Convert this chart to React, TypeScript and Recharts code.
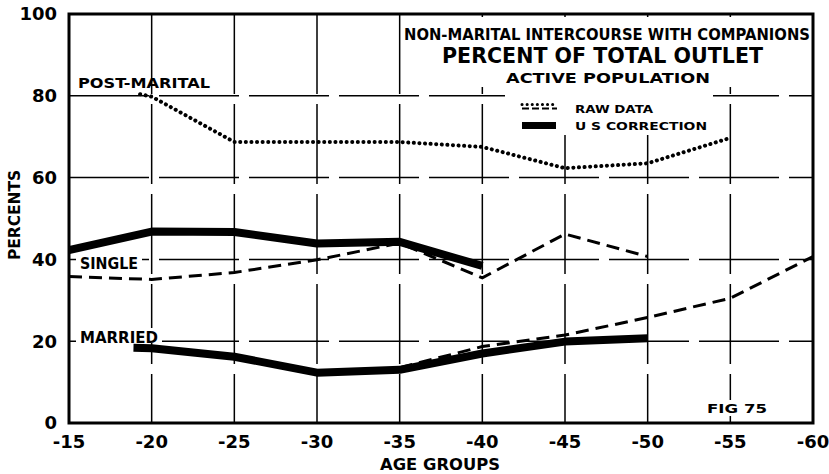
import React from "react";
import {
  LineChart,
  Line,
  XAxis,
  YAxis,
  CartesianGrid,
  ReferenceArea,
} from "recharts";

const ageTicks = [15, 20, 25, 30, 35, 40, 45, 50, 55, 60];
const percentTicks = [0, 20, 40, 60, 80, 100];

const postMaritalAges = [19.3, 20, 25, 30, 35, 40, 45, 50, 55];
const postMaritalRaw = [80.4, 79.8, 68.7, 68.7, 68.7, 67.5, 62.3, 63.5, 69.7];

const singleRawAges = [15, 20, 25, 30, 35, 40, 45, 50];
const singleRaw = [35.8, 35.1, 36.8, 39.9, 44.0, 35.5, 46.2, 40.7];

const singleCorrAges = [15, 20, 25, 30, 35, 40];
const singleCorr = [42.3, 46.8, 46.7, 43.9, 44.3, 38.4];

const marriedRawAges = [35, 40, 45, 50, 55, 60];
const marriedRaw = [13.5, 18.7, 21.5, 25.8, 30.5, 40.7];

const marriedCorrAges = [18.9, 20, 25, 30, 35, 40, 45, 50];
const marriedCorr = [18.4, 18.3, 16.2, 12.3, 13.0, 17.0, 19.9, 20.7];

const toRows = (ages: number[], vals: number[]) =>
  ages.map((a, i) => ({ age: a, v: vals[i] }));

const FONT = "'DejaVu Sans', sans-serif";

export default function App() {
  const W = 829;
  const H = 474;
  const txt = {
    fontFamily: FONT,
    fontWeight: 700 as const,
    fill: "#000",
  };
  return (
    <div style={{ position: "absolute", left: 0, top: 0, width: W, height: H, background: "#fff" }}>
      <LineChart
        width={W}
        height={H}
        margin={{ top: 14, right: 16, bottom: 0, left: 0 }}
      >
        <CartesianGrid
          stroke="#000"
          strokeWidth={1.5}
          strokeDasharray="80 10"
          horizontalValues={[20, 40, 60, 80]}
          verticalValues={[20, 25, 30, 35, 40, 45, 50, 55]}
        />
        <XAxis
          dataKey="age"
          type="number"
          domain={[15, 60]}
          ticks={ageTicks}
          tickFormatter={(v: number) => `-${v}`}
          axisLine={false}
          tickLine={false}
          height={51}
          tickMargin={6}
          interval={0}
          tick={{ fontFamily: FONT, fontWeight: 900, fontSize: 18, fill: "#000" }}
          allowDataOverflow
        />
        <YAxis
          type="number"
          domain={[0, 100]}
          ticks={percentTicks}
          axisLine={false}
          tickLine={false}
          width={69}
          tickMargin={6}
          tick={{ fontFamily: FONT, fontWeight: 900, fontSize: 18, fill: "#000" }}
        />
        <ReferenceArea
          x1={15}
          x2={60}
          y1={0}
          y2={100}
          fill="none"
          stroke="#000"
          strokeWidth={3}
          fillOpacity={0}
        />
        <Line
          data={toRows(postMaritalAges, postMaritalRaw)}
          dataKey="v"
          stroke="#000"
          strokeWidth={4}
          strokeDasharray="0.1 5.5"
          strokeLinecap="round"
          dot={false}
          isAnimationActive={false}
        />
        <Line
          data={toRows(singleRawAges, singleRaw)}
          dataKey="v"
          stroke="#000"
          strokeWidth={3}
          strokeDasharray="13 7"
          dot={false}
          isAnimationActive={false}
        />
        <Line
          data={toRows(marriedRawAges, marriedRaw)}
          dataKey="v"
          stroke="#000"
          strokeWidth={3}
          strokeDasharray="13 7"
          dot={false}
          isAnimationActive={false}
        />
        <Line
          data={toRows(singleCorrAges, singleCorr)}
          dataKey="v"
          stroke="#000"
          strokeWidth={8}
          strokeLinejoin="round"
          dot={false}
          isAnimationActive={false}
        />
        <Line
          data={toRows(marriedCorrAges, marriedCorr)}
          dataKey="v"
          stroke="#000"
          strokeWidth={8}
          strokeLinejoin="round"
          dot={false}
          isAnimationActive={false}
        />
      </LineChart>
      <svg
        width={W}
        height={H}
        style={{ position: "absolute", left: 0, top: 0, pointerEvents: "none" }}
      >
        <rect x={402} y={17} width={409} height={70} fill="#fff" />
        <rect x={505} y={87} width={208} height={48} fill="#fff" />
        <rect x={76} y={254} width={66} height={17} fill="#fff" />
        <rect x={76} y={328} width={86} height={15} fill="#fff" />
        <rect x={704} y={400} width={66} height={16} fill="#fff" />
        <text {...txt} x={404} y={40} fontSize={15} fontWeight={900} textLength={406} lengthAdjust="spacingAndGlyphs">
          NON-MARITAL INTERCOURSE WITH COMPANIONS
        </text>
        <text {...txt} x={442} y={63} fontSize={22} fontWeight={900} textLength={321} lengthAdjust="spacingAndGlyphs">
          PERCENT OF TOTAL OUTLET
        </text>
        <text {...txt} x={506} y={83} fontSize={14} textLength={204} lengthAdjust="spacingAndGlyphs">
          ACTIVE POPULATION
        </text>
        <line x1={522} y1={104.5} x2={557} y2={104.5} stroke="#000" strokeWidth={3} strokeDasharray="0.1 5" strokeLinecap="round" />
        <line x1={522} y1={108.5} x2={557} y2={108.5} stroke="#000" strokeWidth={2} strokeDasharray="7 3" />
        <rect x={522} y={122} width={34} height={7} fill="#000" />
        <text {...txt} x={575} y={113} fontSize={11} textLength={78} lengthAdjust="spacingAndGlyphs">
          RAW DATA
        </text>
        <text {...txt} x={575} y={130} fontSize={11} textLength={132} lengthAdjust="spacingAndGlyphs">
          U S CORRECTION
        </text>
        <text {...txt} x={78} y={88} fontSize={14} fontWeight={900} textLength={132} lengthAdjust="spacingAndGlyphs">
          POST-MARITAL
        </text>
        <text {...txt} x={80} y={269} fontSize={15} fontWeight={900} textLength={58} lengthAdjust="spacingAndGlyphs">
          SINGLE
        </text>
        <text {...txt} x={80} y={343} fontSize={15} fontWeight={900} textLength={78} lengthAdjust="spacingAndGlyphs">
          MARRIED
        </text>
        <text {...txt} x={707} y={413} fontSize={13} fontWeight={900} textLength={60} lengthAdjust="spacingAndGlyphs">
          FIG 75
        </text>
        <text {...txt} x={380} y={470} fontSize={15} fontWeight={900} textLength={120} lengthAdjust="spacingAndGlyphs">
          AGE  GROUPS
        </text>
        <text
          {...txt}
          x={0}
          y={0}
          fontSize={15}
          fontWeight={900}
          textLength={90}
          lengthAdjust="spacingAndGlyphs"
          transform="translate(20,260) rotate(-90)"
        >
          PERCENTS
        </text>
      </svg>
    </div>
  );
}
